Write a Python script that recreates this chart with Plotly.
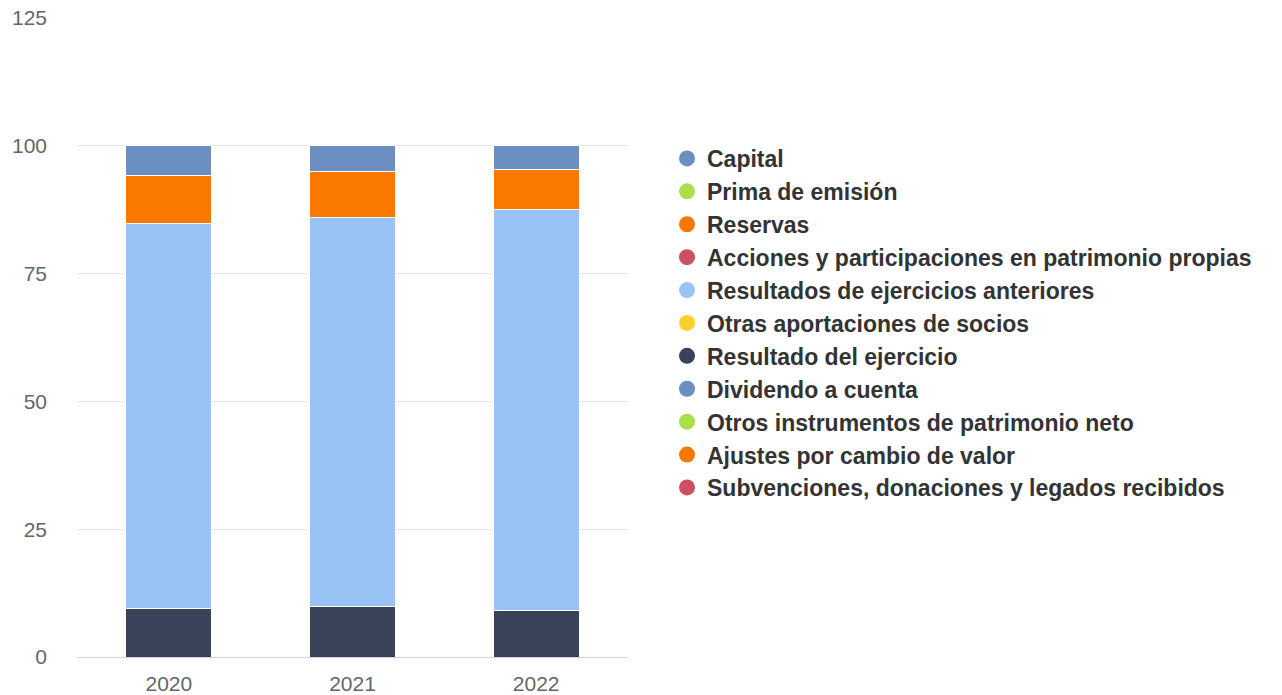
import plotly.graph_objects as go

years = ["2020", "2021", "2022"]

series_names = [
    "Capital",
    "Prima de emisión",
    "Reservas",
    "Acciones y participaciones en patrimonio propias",
    "Resultados de ejercicios anteriores",
    "Otras aportaciones de socios",
    "Resultado del ejercicio",
    "Dividendo a cuenta",
    "Otros instrumentos de patrimonio neto",
    "Ajustes por cambio de valor",
    "Subvenciones, donaciones y legados recibidos",
]

series_colors = [
    "#6b8fc0", "#a9e04a", "#fb7800", "#cc4f62", "#9ac3f5", "#ffd02b",
    "#394259", "#6b8fc0", "#a9e04a", "#fb7800", "#cc4f62",
]

capital = [5.8, 5.0, 4.6]
prima = [0, 0, 0]
reservas = [9.4, 9.0, 7.8]
acciones = [0, 0, 0]
anteriores = [75.4, 76.2, 78.6]
otras_aport = [0, 0, 0]
resultado = [9.4, 9.8, 9.0]
dividendo = [0, 0, 0]
otros_instr = [0, 0, 0]
ajustes = [0, 0, 0]
subvenciones = [0, 0, 0]

series_values = [capital, prima, reservas, acciones, anteriores, otras_aport,
                 resultado, dividendo, otros_instr, ajustes, subvenciones]

y_ticks = [0, 25, 50, 75, 100, 125]

fig = go.Figure()

# Bars: first series on top (stack in reverse order)
for name, vals, col in reversed(list(zip(series_names, series_values, series_colors))):
    fig.add_trace(go.Bar(
        x=years, y=vals, name=name, showlegend=False,
        marker=dict(color=col, line=dict(color="white", width=1)),
    ))

# Legend entries with circular symbols
for name, col in zip(series_names, series_colors):
    fig.add_trace(go.Scatter(
        x=[None], y=[None], mode="markers", name=name,
        marker=dict(color=col, size=24, symbol="circle"),
    ))

fig.update_layout(
    barmode="stack",
    bargap=0.532,
    width=1282, height=695,
    margin=dict(l=77, r=654, t=18, b=38, autoexpand=False),
    paper_bgcolor="white", plot_bgcolor="white",
    font=dict(family="Liberation Sans, Arial, sans-serif", color="#666666", size=21),
    showlegend=True,
    legend=dict(
        x=1.0708, xanchor="left", y=0.5227, yanchor="middle",
        font=dict(size=23, color="#333333", family="Liberation Sans, Arial, sans-serif", weight="bold"),
        traceorder="normal",
        itemsizing="trace",
        bgcolor="rgba(0,0,0,0)",
    ),
    xaxis=dict(
        showline=True, linecolor="#ccd6eb", linewidth=1,
        showgrid=False, tickfont=dict(size=21, color="#666666"),
        ticks="", ticklabelstandoff=8, ticklabeloverflow="allow",
        automargin=False,
    ),
    yaxis=dict(
        range=[0, 125], tickvals=y_ticks,
        showgrid=True, gridcolor="#e6e6e6", gridwidth=1,
        zeroline=False, showline=False,
        tickfont=dict(size=21, color="#666666"),
        ticklabelstandoff=29, ticklabeloverflow="allow",
        automargin=False,
    ),
)

fig.write_html(
    "out.html",
    config={"displayModeBar": False},
    post_script="document.body.style.margin='0';document.body.style.overflow='hidden';",
)
